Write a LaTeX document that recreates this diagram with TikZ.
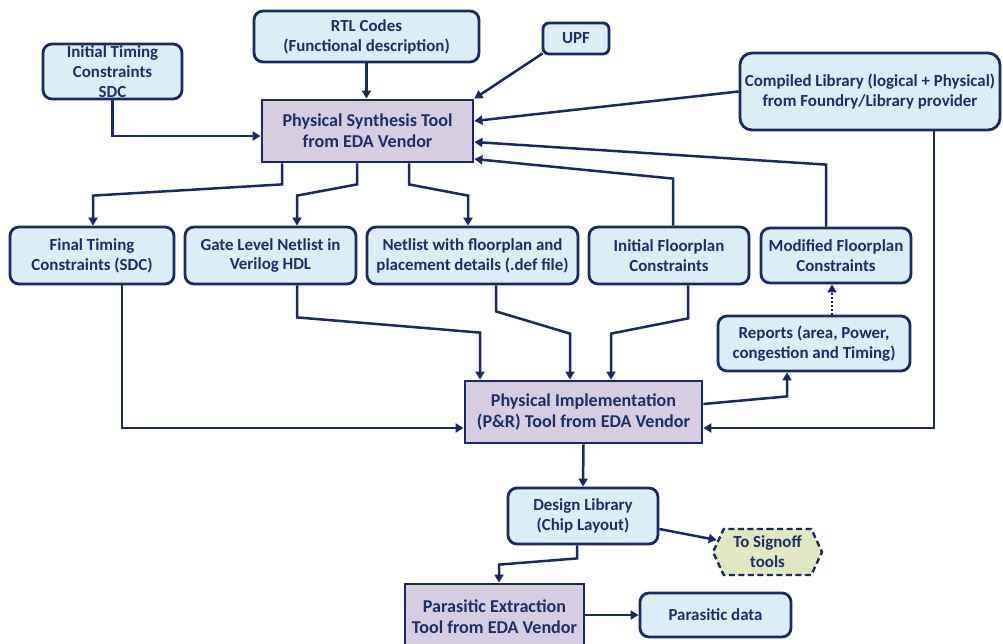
\documentclass[tikz,border=0pt]{standalone}
\usepackage{fontspec}
\setmainfont{Carlito}
\usetikzlibrary{arrows.meta,shapes.symbols}
\definecolor{navy}{HTML}{1A2A5C}
\definecolor{inktext}{HTML}{1D2F63}
\definecolor{boxblue}{HTML}{DCEDF5}
\definecolor{toolpurple}{HTML}{D7CDE1}
\definecolor{signoffgreen}{HTML}{E1E6C3}
\tikzset{
  infobox/.style={draw=navy, line width=2.8pt, fill=boxblue, rounded corners=9pt,
    align=center, inner sep=0pt, text=inktext,
    font=\fontsize{16.9}{19.8}\selectfont\bfseries},
  toolbox/.style={draw=navy, line width=2.8pt, fill=toolpurple,
    align=center, inner sep=0pt, text=inktext,
    font=\fontsize{18.1}{21}\selectfont\bfseries},
  link/.style={draw=navy, line width=2.5pt, -{Triangle[length=8pt,width=9pt]}},
  dotlink/.style={link, dash pattern=on 2pt off 2pt}
}
\begin{document}
\begin{tikzpicture}[x=1pt,y=-1pt]
\useasboundingbox (0,0) rectangle (1003,643);
\fill[white] (0,0) rectangle (1003,643);

% input boxes
\node[infobox, minimum width=139pt, minimum height=55pt] (itc) at (112.5,71.5) {Initial Timing\\Constraints\\SDC};
\node[infobox, minimum width=225pt, minimum height=51pt] (rtl) at (366.5,36.5) {RTL Codes\\(Functional description)};
\node[infobox, minimum width=66pt, minimum height=31pt, rounded corners=6pt] (upf) at (576,38.5) {UPF};
\node[infobox, minimum width=260pt, minimum height=77pt, rounded corners=12pt] (lib) at (870,91.5) {Compiled Library (logical + Physical)\\from Foundry/Library provider};

% synthesis
\node[toolbox, minimum width=211pt, minimum height=62pt] (pst) at (367.5,131) {Physical Synthesis Tool\\from EDA Vendor};

% synthesis outputs / constraints
\node[infobox, minimum width=164pt, minimum height=57pt] (ftc) at (92,255.5) {Final Timing\\Constraints (SDC)};
\node[infobox, minimum width=171pt, minimum height=57pt] (gln) at (270.5,255.5) {Gate Level Netlist in\\Verilog HDL};
\node[infobox, minimum width=211pt, minimum height=57pt] (nfp) at (472.5,255.5) {Netlist with floorplan and\\placement details (.def file)};
\node[infobox, minimum width=160pt, minimum height=57pt] (ifp) at (669,255.5) {Initial Floorplan\\Constraints};
\node[infobox, minimum width=150pt, minimum height=55pt] (mfp) at (836,255.5) {Modified Floorplan\\Constraints};
\node[infobox, minimum width=192pt, minimum height=55pt] (rep) at (814,343.5) {Reports (area, Power,\\congestion and Timing)};

% place and route
\node[toolbox, minimum width=237pt, minimum height=62pt] (pi) at (583.5,412) {Physical Implementation\\(P\&R) Tool from EDA Vendor};

% layout and extraction
\node[infobox, minimum width=150pt, minimum height=56pt] (dl) at (583,516) {Design Library\\(Chip Layout)};
\node[signal, signal to=west and east, signal pointer angle=130,
  draw=navy, line width=2.4pt, dash pattern=on 6pt off 3.5pt, fill=signoffgreen, align=center,
  inner sep=0pt, minimum width=109pt, minimum height=46pt, text=inktext,
  font=\fontsize{16.9}{19.8}\selectfont\bfseries] (so) at (767.5,552) {To Signoff\\tools};
\node[toolbox, minimum width=179pt, minimum height=66pt] (pe) at (494.5,617) {Parasitic Extraction\\Tool from EDA Vendor};
\node[infobox, minimum width=151pt, minimum height=44pt] (pd) at (715.5,615) {Parasitic data};

% inputs to synthesis
\draw[link] (itc.south) |- ([yshift=-5pt]pst.west);
\draw[link] (rtl.south) -- (rtl.south |- pst.north);
\draw[link] ([xshift=1pt,yshift=2pt]upf.south west) -- (pst.north east);
\draw[link] (lib.west) -- ([yshift=10pt]pst.east);
\draw[link] ([xshift=-10pt]mfp.north) -- ++(0,-62) -- ([yshift=-11pt]pst.east);
\draw[link] ([xshift=4pt]ifp.north) -- ++(0,-47) -- ([yshift=-28pt]pst.east);

% synthesis outputs
\draw[link] ([xshift=-85.5pt]pst.south) -- ++(0,21) -- ([xshift=1pt,yshift=30pt]ftc.north) -- ([xshift=1pt]ftc.north);
\draw[link] ([xshift=-10.5pt]pst.south) -- ++(0,21) -- ([xshift=26.5pt,yshift=30pt]gln.north) -- ([xshift=26.5pt]gln.north);
\draw[link] ([xshift=41.5pt]pst.south) -- ++(0,21) -- ([xshift=-4.5pt,yshift=30pt]nfp.north) -- ([xshift=-4.5pt]nfp.north);

% inputs to place and route
\draw[link] ([xshift=30pt]ftc.south) |- ([yshift=-16pt]pi.west);
\draw[link] ([xshift=26.5pt]gln.south) -- ++(0,32) -- ([xshift=-103.5pt,yshift=47pt]pi.north) -- ([xshift=-103.5pt]pi.north);
\draw[link] ([xshift=23.5pt]nfp.south) -- ++(0,26) -- ([xshift=-13.5pt,yshift=46pt]pi.north) -- ([xshift=-13.5pt]pi.north);
\draw[link] ([xshift=19pt]ifp.south) -- ++(0,33) -- ([xshift=27.5pt,yshift=46pt]pi.north) -- ([xshift=27.5pt]pi.north);
\draw[link] ([xshift=64pt]lib.south) |- ([yshift=-16pt]pi.east);

% reports feedback
\draw[link] ([yshift=8pt]pi.east) -- ([xshift=-27pt,yshift=-24pt]rep.south) -- ([xshift=-27pt]rep.south);
\draw[dotlink] ([xshift=18pt]rep.north) -- ([xshift=-4pt]mfp.south);

% layout and extraction
\draw[link] (pi.south) -- (dl.north);
\draw[link] ([yshift=-13pt]dl.east) -- ([xshift=5pt,yshift=12pt]so.west);
\draw[link] ([xshift=-6pt]dl.south) -- ++(0,13) -- ([xshift=4.5pt,yshift=18pt]pe.north) -- ([xshift=4.5pt]pe.north);
\draw[link] (pe.east |- pd.west) -- (pd.west);
\end{tikzpicture}
\end{document}
